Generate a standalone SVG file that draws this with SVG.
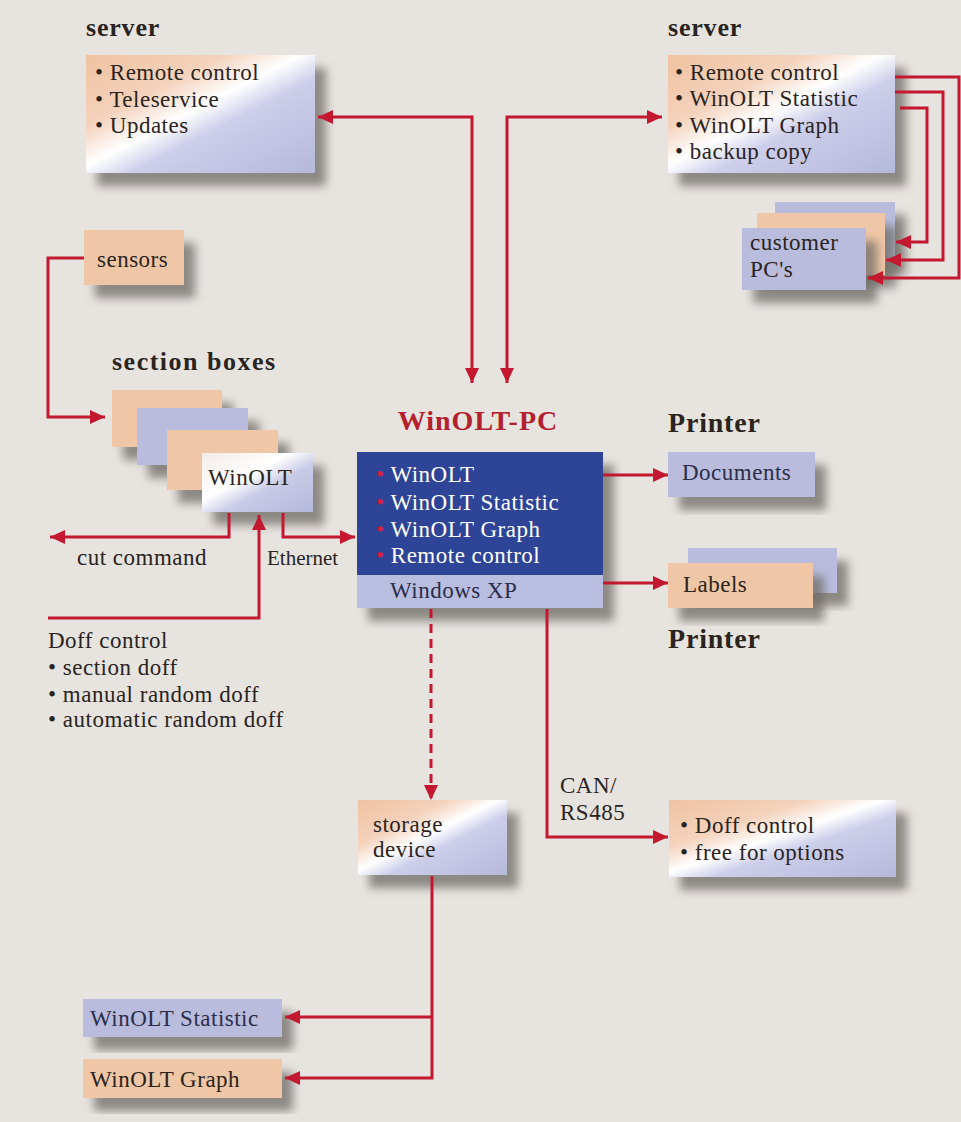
<svg xmlns="http://www.w3.org/2000/svg" width="961" height="1122" viewBox="0 0 961 1122">
<defs>
<style>
.t{font-family:"Liberation Serif","Times New Roman",serif;font-size:23px;fill:#2a241f;letter-spacing:0.5px}
.h{font-family:"Liberation Serif","Times New Roman",serif;font-size:26px;font-weight:bold;fill:#2a241f;letter-spacing:0.8px}
.w{font-family:"Liberation Serif","Times New Roman",serif;font-size:23px;fill:#ffffff;letter-spacing:0.5px}
.rb{fill:#d0203a}
.peach{fill:#f0c7a6}
.lav{fill:#b9bcdc}
.c{fill:none;stroke:#c3182f;stroke-width:3}
</style>
<linearGradient id="g1" x1="0" y1="0" x2="1" y2="1">
<stop offset="0" stop-color="#f0c2a0"/>
<stop offset="0.3" stop-color="#f4d2bc"/>
<stop offset="0.47" stop-color="#ffffff"/>
<stop offset="0.6" stop-color="#ccceea"/>
<stop offset="1" stop-color="#b5b9da"/>
</linearGradient>
<linearGradient id="g2" x1="0" y1="0" x2="1" y2="1">
<stop offset="0" stop-color="#f2ece8"/>
<stop offset="0.4" stop-color="#ffffff"/>
<stop offset="0.6" stop-color="#c8cae6"/>
<stop offset="1" stop-color="#b5b9da"/>
</linearGradient>
<filter id="sh" x="-20%" y="-20%" width="150%" height="160%">
<feDropShadow dx="11" dy="13" stdDeviation="5" flood-color="#6e6a66" flood-opacity="0.75"/>
</filter>
<marker id="ah" markerUnits="userSpaceOnUse" markerWidth="16" markerHeight="16" refX="15" refY="8" orient="auto-start-reverse">
<path d="M0,1 L15,8 L0,15 z" fill="#c3182f"/>
</marker>
</defs>
<rect x="0" y="0" width="961" height="1122" fill="#e7e3df"/>

<g id="server-left">
<text class="h" x="86" y="36">server</text>
<rect x="86" y="55" width="229" height="118" fill="url(#g1)" filter="url(#sh)"/>
<text class="t" x="95" y="80">• Remote control</text>
<text class="t" x="95" y="107">• Teleservice</text>
<text class="t" x="95" y="133">• Updates</text>
</g>

<g id="server-right">
<text class="h" x="668" y="36">server</text>
<rect x="668" y="55" width="227" height="118" fill="url(#g1)" filter="url(#sh)"/>
<text class="t" x="675" y="80">• Remote control</text>
<text class="t" x="675" y="106">• WinOLT Statistic</text>
<text class="t" x="675" y="133">• WinOLT Graph</text>
<text class="t" x="675" y="159">• backup copy</text>
</g>

<g id="customer-pcs">
<rect class="lav" x="775" y="202" width="120" height="60" filter="url(#sh)"/>
<rect class="peach" x="757" y="213" width="128" height="62" filter="url(#sh)"/>
<rect class="lav" x="742" y="228" width="124" height="62" filter="url(#sh)"/>
<text class="t" x="750" y="250">customer</text>
<text class="t" x="750" y="277">PC's</text>
</g>

<g id="sensors">
<rect class="peach" x="84" y="230" width="100" height="55" filter="url(#sh)"/>
<text class="t" x="97" y="267">sensors</text>
</g>

<g id="section-boxes">
<text class="h" x="112" y="370" style="letter-spacing:1.5px">section boxes</text>
<rect class="peach" x="112" y="390" width="110" height="57" filter="url(#sh)"/>
<rect class="lav" x="137" y="408" width="111" height="57" filter="url(#sh)"/>
<rect class="peach" x="167" y="430" width="111" height="60" filter="url(#sh)"/>
<rect x="202" y="453" width="111" height="59" fill="url(#g2)" filter="url(#sh)"/>
<text class="t" x="208" y="485">WinOLT</text>
</g>

<g id="labels-left">
<text class="t" x="77" y="565">cut command</text>
<text class="t" x="267" y="565" style="font-size:21px;letter-spacing:0">Ethernet</text>
<text class="t" x="48" y="648">Doff control</text>
<text class="t" x="48" y="675">• section doff</text>
<text class="t" x="48" y="702">• manual random doff</text>
<text class="t" x="48" y="727">• automatic random doff</text>
</g>

<g id="winolt-pc">
<text class="h" x="478" y="430" text-anchor="middle" style="fill:#b3202e;font-size:28px;letter-spacing:1px">WinOLT-PC</text>
<rect x="357" y="452" width="246" height="156" fill="#2f4597" filter="url(#sh)"/>
<rect x="357" y="575" width="246" height="33" fill="#b9bde0"/>
<text class="w" x="376" y="482"><tspan class="rb">•</tspan> WinOLT</text>
<text class="w" x="376" y="510"><tspan class="rb">•</tspan> WinOLT Statistic</text>
<text class="w" x="376" y="537"><tspan class="rb">•</tspan> WinOLT Graph</text>
<text class="w" x="376" y="563"><tspan class="rb">•</tspan> Remote control</text>
<text class="t" x="390" y="598" style="fill:#2b2e4a">Windows XP</text>
</g>

<g id="printer-documents">
<text class="h" x="668" y="432" style="font-size:28px">Printer</text>
<rect class="lav" x="668" y="452" width="147" height="45" filter="url(#sh)"/>
<text class="t" x="682" y="480" style="fill:#2b2e4a">Documents</text>
</g>

<g id="printer-labels">
<rect class="lav" x="688" y="548" width="149" height="45" filter="url(#sh)"/>
<rect class="peach" x="668" y="563" width="145" height="45" filter="url(#sh)"/>
<text class="t" x="683" y="592">Labels</text>
<text class="h" x="668" y="648" style="font-size:28px">Printer</text>
</g>

<g id="storage-device">
<rect x="358" y="800" width="149" height="75" fill="url(#g1)" filter="url(#sh)"/>
<text class="t" x="373" y="832">storage</text>
<text class="t" x="373" y="857">device</text>
</g>

<g id="can-label">
<text class="t" x="560" y="793">CAN/</text>
<text class="t" x="560" y="820">RS485</text>
</g>

<g id="doff-box">
<rect x="669" y="800" width="227" height="77" fill="url(#g1)" filter="url(#sh)"/>
<text class="t" x="680" y="833">• Doff control</text>
<text class="t" x="680" y="860">• free for options</text>
</g>

<g id="winolt-statistic">
<rect class="lav" x="83" y="999" width="199" height="38" filter="url(#sh)"/>
<text class="t" x="90" y="1026" style="fill:#2b2e4a">WinOLT Statistic</text>
</g>

<g id="winolt-graph">
<rect class="peach" x="83" y="1059" width="199" height="39" filter="url(#sh)"/>
<text class="t" x="90" y="1087">WinOLT Graph</text>
</g>

<g id="connectors">
<path class="c" d="M318,117 H472 V383" marker-start="url(#ah)" marker-end="url(#ah)"/>
<path class="c" d="M507,383 V117 H662" marker-start="url(#ah)" marker-end="url(#ah)"/>
<path class="c" d="M895,77 H959 V278 H868" marker-end="url(#ah)"/>
<path class="c" d="M895,92 H943 V260 H886" marker-end="url(#ah)"/>
<path class="c" d="M900,108 H927 V242 H896" marker-end="url(#ah)"/>
<path class="c" d="M84,258 H48 V417 H105" marker-end="url(#ah)"/>
<path class="c" d="M229,513 V537 H50" marker-end="url(#ah)"/>
<path class="c" d="M48,618 H259 V515" marker-end="url(#ah)"/>
<path class="c" d="M283,513 V537 H355" marker-end="url(#ah)"/>
<path class="c" d="M603,475 H668" marker-end="url(#ah)"/>
<path class="c" d="M603,583 H668" marker-end="url(#ah)"/>
<path class="c" d="M431,609 V800" stroke-dasharray="9,6" marker-end="url(#ah)"/>
<path class="c" d="M547,609 V837 H668" marker-end="url(#ah)"/>
<path class="c" d="M432,876 V1078 H285" marker-end="url(#ah)"/>
<path class="c" d="M432,1017 H285" marker-end="url(#ah)"/>
</g>
</svg>
